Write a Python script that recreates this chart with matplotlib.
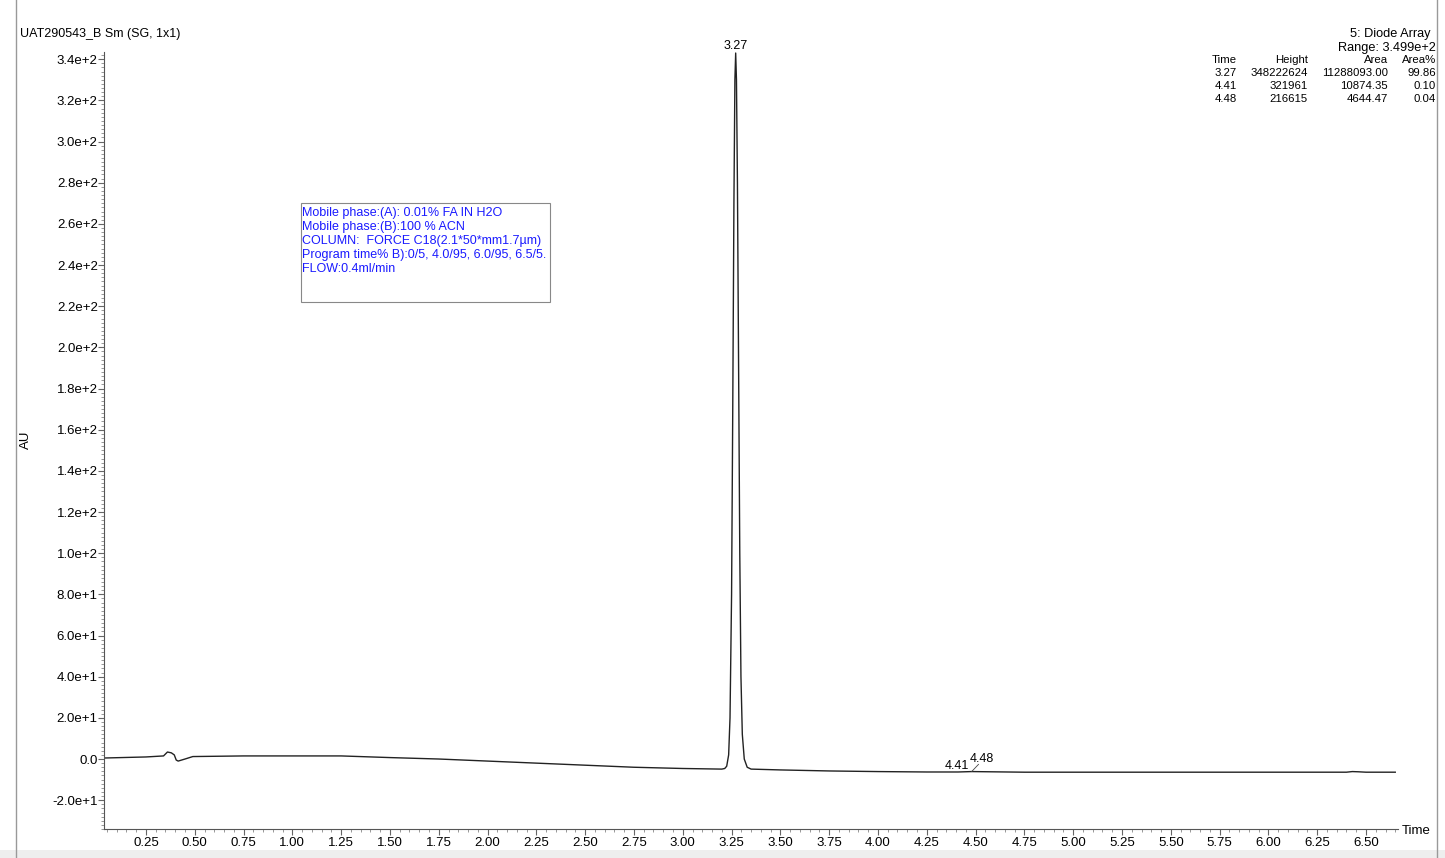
import matplotlib
matplotlib.use("Agg")
import matplotlib.pyplot as plt
import numpy as np
from matplotlib.ticker import MultipleLocator, FuncFormatter
from matplotlib.patches import Rectangle
from matplotlib.lines import Line2D

plt.rcParams['font.family'] = ['Liberation Sans', 'DejaVu Sans']

# ---- data ----
time = [0.04, 0.25, 0.34, 0.36, 0.38, 0.395, 0.405, 0.415, 0.45, 0.49, 0.75, 1.00, 1.25,
        1.50, 1.75, 2.00, 2.25, 2.50, 2.75, 3.00, 3.20, 3.215, 3.225, 3.235, 3.242, 3.25,
        3.256, 3.262, 3.267, 3.271, 3.275, 3.28, 3.286, 3.292, 3.298, 3.305, 3.315,
        3.33, 3.35, 3.50, 3.75, 4.00, 4.25, 4.41, 4.48, 4.75, 5.00, 5.50, 6.00, 6.40,
        6.43, 6.46, 6.50, 6.65]
au = [0.5, 1.0, 1.5, 3.4, 3.0, 2.0, -0.5, -1.0, 0.0, 1.2, 1.5, 1.5, 1.5,
      0.7, 0.0, -1.0, -2.0, -3.0, -4.0, -4.6, -4.9, -4.6, -3.5, 2.0, 20.0, 80.0,
      170.0, 270.0, 330.0, 343.0, 330.0, 280.0, 190.0, 100.0, 40.0, 12.0, 0.0,
      -4.0, -4.9, -5.3, -5.8, -6.1, -6.3, -6.3, -6.1, -6.4, -6.4, -6.4, -6.4, -6.4,
      -6.1, -6.2, -6.4, -6.4]

peak_times = ["3.27", "4.41", "4.48"]
peak_heights = ["348222624", "321961", "216615"]
peak_areas = ["11288093.00", "10874.35", "4644.47"]
peak_area_pct = ["99.86", "0.10", "0.04"]

box_lines = ["Mobile phase:(A): 0.01% FA IN H2O",
             "Mobile phase:(B):100 % ACN",
             "COLUMN:  FORCE C18(2.1*50*mm1.7\u00b5m)",
             "Program time% B):0/5, 4.0/95, 6.0/95, 6.5/5.",
             "FLOW:0.4ml/min"]

W, H = 1445, 858


def fy(py):
    return 1 - py / H


fig = plt.figure(figsize=(W / 100, H / 100), dpi=100)
ax = fig.add_axes([104 / W, fy(829), (1398 - 104) / W, (829 - 52) / H])

ax.plot(time, au, color='#222222', lw=1.0)
ax.set_xlim(0.035, 6.664)
ax.set_ylim(-34, 343.5)

for s in ['top', 'right']:
    ax.spines[s].set_visible(False)
for s in ['left', 'bottom']:
    ax.spines[s].set_color('#555555')
    ax.spines[s].set_linewidth(0.8)

ax.xaxis.set_major_locator(MultipleLocator(0.25))
ax.xaxis.set_minor_locator(MultipleLocator(0.05))
ax.xaxis.set_major_formatter(FuncFormatter(lambda v, p: "" if abs(v) < 1e-9 else f"{v:.2f}"))
ax.yaxis.set_major_locator(MultipleLocator(20))
ax.yaxis.set_minor_locator(MultipleLocator(2))


def yfmt(v, p):
    if abs(v) < 1e-9:
        return "0.0"
    e = int(np.floor(np.log10(abs(v))))
    m = v / 10 ** e
    return f"{m:.1f}e+{e}"


ax.yaxis.set_major_formatter(FuncFormatter(yfmt))
ax.tick_params(axis='both', which='major', length=4, width=0.8, color='#666666',
               labelsize=9.5)
ax.tick_params(axis='y', which='major', pad=0.5)
ax.tick_params(axis='x', which='major', pad=1.5)
ax.tick_params(axis='both', which='minor', length=2.5, width=0.6, color='#888888')

# peak labels
fig.text(736 / W, fy(46), "3.27", ha='center', va='center', fontsize=9)
fig.text(957 / W, fy(766), "4.41", ha='center', va='center', fontsize=9)
fig.text(982 / W, fy(759), "4.48", ha='center', va='center', fontsize=9)
ax.plot([4.48, 4.515], [-6.1, -2.6], color='#444444', lw=0.6)

# axis labels
fig.text(1402 / W, fy(831), "Time", ha='left', va='center', fontsize=9.5)
fig.text(26 / W, fy(440), "AU", ha='center', va='center', fontsize=9.5, rotation=90)

# title and header
fig.text(20 / W, fy(34), "UAT290543_B Sm (SG, 1x1)", ha='left', va='center', fontsize=9)
fig.text(1431 / W, fy(34), "5: Diode Array", ha='right', va='center', fontsize=9.2)
fig.text(1436 / W, fy(48), "Range: 3.499e+2", ha='right', va='center', fontsize=9.2)

cols_x = [1237, 1308, 1388, 1436]
headers = ["Time", "Height", "Area", "Area%"]
for cx, h in zip(cols_x, headers):
    fig.text(cx / W, fy(60), h, ha='right', va='center', fontsize=8.2)
for i in range(len(peak_times)):
    yy = fy(73 + 13 * i)
    row = [peak_times[i], peak_heights[i], peak_areas[i], peak_area_pct[i]]
    for cx, v in zip(cols_x, row):
        fig.text(cx / W, yy, v, ha='right', va='center', fontsize=8.2)

# info box
fig.patches.append(Rectangle((301 / W, fy(302)), (550 - 301) / W, (302 - 203) / H,
                             transform=fig.transFigure, fill=False, edgecolor='#888888',
                             lw=0.8))
for i, line in enumerate(box_lines):
    fig.text(302 / W, fy(213 + 14 * i), line, ha='left', va='center',
             fontsize=9, color='#1a1aff')

# frame decorations
fig.add_artist(Line2D([16 / W, 16 / W], [0, 1], transform=fig.transFigure,
                      color='#999999', lw=1))
fig.add_artist(Line2D([1437 / W, 1437 / W], [0, 1], transform=fig.transFigure,
                      color='#999999', lw=1))
fig.patches.append(Rectangle((0, 0), 1, 8 / H, transform=fig.transFigure,
                             facecolor='#eeeeee', edgecolor='none'))

fig.savefig("out.png", dpi=100)
